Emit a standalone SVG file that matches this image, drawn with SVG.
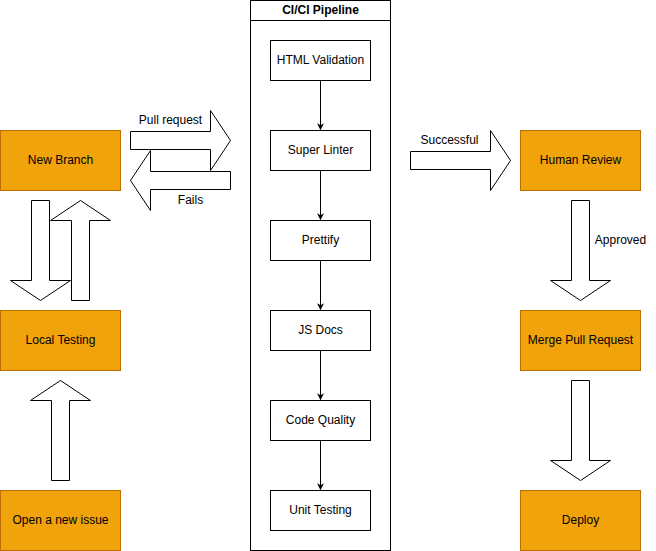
<svg xmlns="http://www.w3.org/2000/svg" width="656" height="551" viewBox="0 0 656 551">
  <style>
    .step { fill: #f0a30a; stroke: #bd7000; stroke-width: 1; }
    .job { fill: #ffffff; stroke: #000000; stroke-width: 1; }
    .big { fill: #ffffff; stroke: #000000; stroke-width: 1; stroke-linejoin: miter; }
    .flow { fill: none; stroke: #000000; stroke-width: 1; }
    text { font-family: "Liberation Sans", Arial, Helvetica, sans-serif; font-size: 12px; fill: #000000; }
    .c { text-anchor: middle; dominant-baseline: central; }
    .title { font-weight: bold; }
  </style>
  <defs>
    <marker id="classic" viewBox="0 0 10 10" refX="9" refY="5" markerWidth="7" markerHeight="7" markerUnits="userSpaceOnUse" orient="auto">
      <path d="M0,0 L10,5 L0,10 L3,5 Z" fill="#000000"/>
    </marker>
  </defs>
  <rect width="656" height="551" fill="#ffffff"/>
  <g transform="translate(0.5,0.5)">
    <!-- pipeline container -->
    <g id="pipeline">
      <rect x="250" y="0" width="140" height="550" class="job"/>
      <line x1="250" y1="20" x2="390" y2="20" class="flow"/>
      <text x="320" y="9.5" class="c title">CI/CI Pipeline</text>
    </g>

    <!-- connectors -->
    <g id="connectors">
      <line x1="320" y1="80" x2="320" y2="129" class="flow" marker-end="url(#classic)"/>
      <line x1="320" y1="170" x2="320" y2="219" class="flow" marker-end="url(#classic)"/>
      <line x1="320" y1="260" x2="320" y2="309" class="flow" marker-end="url(#classic)"/>
      <line x1="320" y1="350" x2="320" y2="399" class="flow" marker-end="url(#classic)"/>
      <line x1="320" y1="440" x2="320" y2="489" class="flow" marker-end="url(#classic)"/>

      <!-- pull request / fails -->
      <path d="M130,131 H210 V110 L230,140 L210,170 V149 H130 Z" class="big"/>
      <path d="M230,171 H150 V150 L130,180 L150,210 V189 H230 Z" class="big"/>
      <!-- branch <-> local testing -->
      <path d="M31,200 V280 H10 L40,300 L70,280 H49 V200 Z" class="big"/>
      <path d="M71,300 V220 H50 L80,200 L110,220 H89 V300 Z" class="big"/>
      <!-- issue -> local testing -->
      <path d="M51,480 V400 H30 L60,380 L90,400 H69 V480 Z" class="big"/>
      <!-- successful -->
      <path d="M410,151 H490 V130 L510,160 L490,190 V169 H410 Z" class="big"/>
      <!-- approved -->
      <path d="M571,200 V280 H550 L580,300 L610,280 H589 V200 Z" class="big"/>
      <!-- merge -> deploy -->
      <path d="M571,380 V460 H550 L580,480 L610,460 H589 V380 Z" class="big"/>

      <text x="170" y="119" class="c">Pull request</text>
      <text x="190" y="199" class="c">Fails</text>
      <text x="449" y="139" class="c">Successful</text>
      <text x="620" y="239" class="c">Approved</text>
    </g>

    <!-- pipeline jobs -->
    <g id="html-validation"><rect x="270" y="40" width="100" height="40" class="job"/><text x="320" y="59" class="c">HTML Validation</text></g>
    <g id="super-linter"><rect x="270" y="130" width="100" height="40" class="job"/><text x="320" y="149" class="c">Super Linter</text></g>
    <g id="prettify"><rect x="270" y="220" width="100" height="40" class="job"/><text x="320" y="239" class="c">Prettify</text></g>
    <g id="js-docs"><rect x="270" y="310" width="100" height="40" class="job"/><text x="320" y="329" class="c">JS Docs</text></g>
    <g id="code-quality"><rect x="270" y="400" width="100" height="40" class="job"/><text x="320" y="419" class="c">Code Quality</text></g>
    <g id="unit-testing"><rect x="270" y="490" width="100" height="40" class="job"/><text x="320" y="509" class="c">Unit Testing</text></g>

    <!-- workflow steps -->
    <g id="new-branch"><rect x="0" y="130" width="120" height="60" class="step"/><text x="60" y="159" class="c">New Branch</text></g>
    <g id="local-testing"><rect x="0" y="310" width="120" height="60" class="step"/><text x="60" y="339" class="c">Local Testing</text></g>
    <g id="open-issue"><rect x="0" y="490" width="120" height="60" class="step"/><text x="60" y="519" class="c">Open a new issue</text></g>
    <g id="human-review"><rect x="520" y="130" width="120" height="60" class="step"/><text x="580" y="159" class="c">Human Review</text></g>
    <g id="merge-pr"><rect x="520" y="310" width="120" height="60" class="step"/><text x="580" y="339" class="c">Merge Pull Request</text></g>
    <g id="deploy"><rect x="520" y="490" width="120" height="60" class="step"/><text x="580" y="519" class="c">Deploy</text></g>
  </g>
</svg>
